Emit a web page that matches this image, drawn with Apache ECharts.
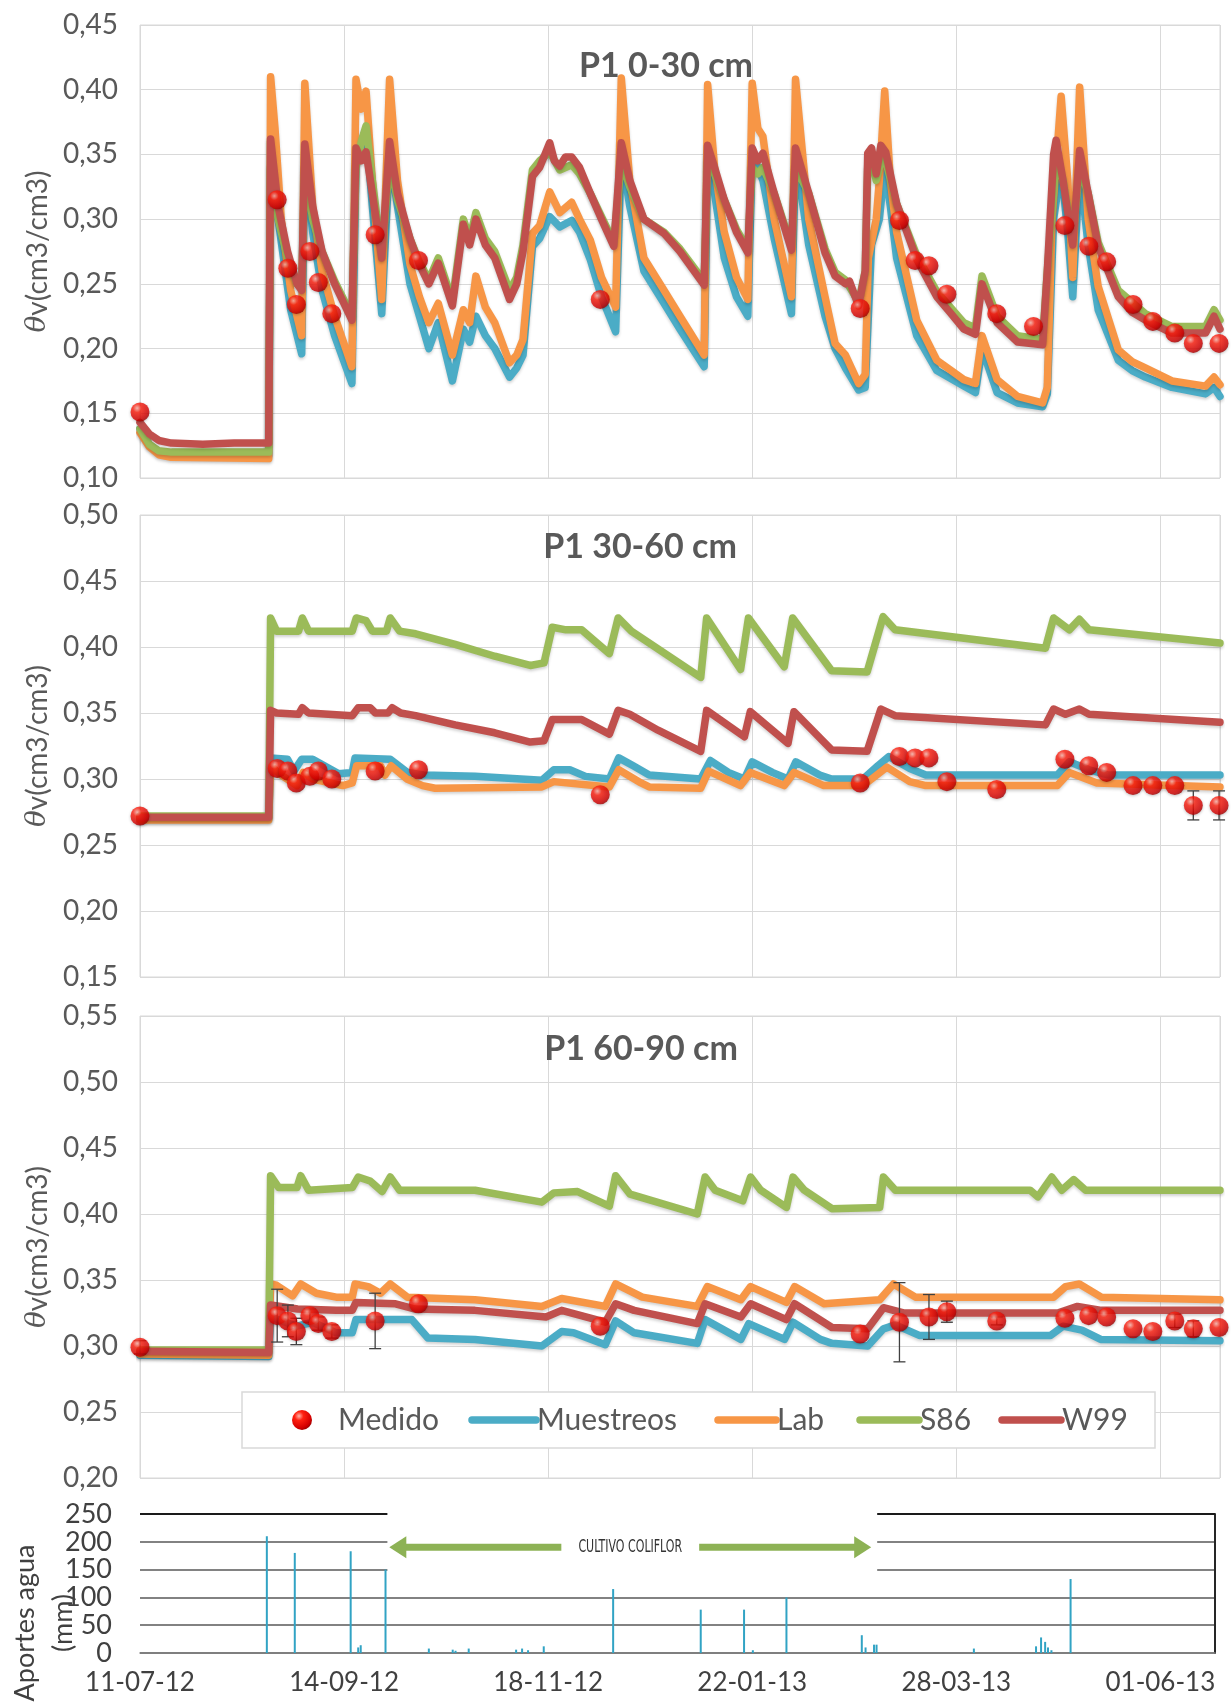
<!DOCTYPE html>
<html><head><meta charset="utf-8">
<script src="https://cdn.jsdelivr.net/npm/echarts@6/dist/echarts.min.js"></script>
<style>html,body{margin:0;padding:0;background:#fff}#c{width:1231px;height:1702px}</style>
</head><body><div id="c"></div>
<script>
// ---------- DATA (days since 11-07-12) ----------
const medDays = [0,43.7,47.1,49.8,54.1,56.8,61.1,74.9,88.7,146.6,229.4,241.9,246.9,251.3,257,272.9,284.6,294.6,302.2,307.9,316.3,322.6,329.6,335.5,343.7];
const med1 = [0.151,0.315,0.262,0.234,0.275,0.251,0.227,0.288,0.268,0.238,0.231,0.299,0.268,0.264,0.242,0.227,0.217,0.295,0.279,0.267,0.234,0.221,0.212,0.204,0.204];
const med2 = [0.272,0.308,0.306,0.297,0.302,0.306,0.300,0.306,0.307,0.288,0.297,0.317,0.316,0.316,0.298,0.292,null,0.315,0.310,0.305,0.295,0.295,0.295,0.280,0.280];
const err2 = [0,0,0,0,0,0,0,0,0,0,0,0,0,0,0,0,0,0,0,0,0,0,0,0.011,0.011];
const med3 = [0.299,0.323,0.319,0.311,0.323,0.317,0.311,0.319,0.332,0.315,0.309,0.318,null,0.322,0.326,0.319,null,0.321,0.323,0.322,0.313,0.311,0.319,0.313,0.314];
const err3 = [0.005,0.02,0.012,0.01,0.005,0.005,0.005,0.021,0,0,0,0.03,0,0.017,0.008,0.003,0,0,0,0,0,0,0.005,0.006,0];

// P1 0-30 cm
const mue1 = [[0,0.138],[3,0.126],[6,0.12],[10,0.118],[41,0.117],[41.6,0.36],[44,0.30],[48,0.23],[51.5,0.196],[52.5,0.35],[55,0.29],[58,0.245],[62,0.21],[67.5,0.173],[68.8,0.345],[70.5,0.36],[72,0.37],[74,0.31],[77,0.227],[79.5,0.35],[82,0.31],[86,0.25],[89,0.225],[92,0.2],[95,0.22],[99.5,0.175],[103,0.215],[105,0.205],[107,0.225],[110,0.21],[113,0.2],[117.7,0.178],[120,0.185],[122,0.195],[125,0.279],[127.3,0.285],[130.5,0.302],[133.7,0.294],[137.5,0.299],[140,0.29],[143.4,0.269],[147,0.24],[151.5,0.213],[153.3,0.35],[156,0.31],[160.5,0.26],[166.9,0.235],[172,0.215],[179.7,0.186],[180.8,0.35],[183,0.32],[186.1,0.27],[190,0.24],[193.6,0.225],[195,0.35],[196.8,0.34],[198.4,0.33],[202,0.285],[207.5,0.227],[208.8,0.35],[213,0.28],[218.2,0.225],[221.4,0.2],[224.7,0.185],[228.9,0.168],[231,0.17],[233,0.28],[235.5,0.30],[237.2,0.34],[239,0.31],[241,0.27],[247.4,0.21],[253.8,0.183],[262.4,0.171],[266.1,0.166],[268.2,0.2],[273,0.166],[279.5,0.158],[287.5,0.155],[289,0.165],[291,0.30],[293.4,0.34],[295.5,0.29],[297.1,0.24],[299.3,0.34],[302,0.28],[305.2,0.23],[311.6,0.191],[316,0.183],[320.2,0.178],[328.7,0.17],[339.4,0.165],[342.1,0.17],[344,0.163]];
const lab1 = [[0,0.135],[3,0.124],[6,0.118],[10,0.116],[41,0.115],[41.6,0.41],[43,0.37],[45,0.30],[48,0.245],[51.5,0.21],[52.5,0.405],[55,0.31],[58,0.26],[62,0.225],[67.5,0.186],[68.8,0.408],[70.5,0.385],[72,0.399],[74,0.33],[77,0.238],[79.5,0.408],[82,0.33],[86,0.265],[89,0.24],[92,0.22],[95,0.235],[99.5,0.195],[103,0.23],[105,0.22],[107,0.256],[110,0.232],[113,0.22],[117.7,0.189],[120,0.195],[122,0.207],[125,0.289],[127.3,0.295],[130.5,0.321],[133.7,0.305],[137.5,0.313],[140,0.30],[143.4,0.284],[147,0.255],[151.5,0.232],[153.3,0.409],[156,0.33],[160.5,0.27],[166.9,0.245],[172,0.225],[179.7,0.195],[180.8,0.404],[183,0.34],[186.1,0.29],[190,0.255],[193.6,0.238],[195,0.405],[196.8,0.37],[198.4,0.364],[202,0.30],[207.5,0.24],[208.8,0.408],[213,0.30],[218.2,0.24],[221.4,0.204],[224.7,0.195],[228.9,0.173],[231,0.18],[232,0.27],[234.5,0.30],[235.5,0.33],[237.2,0.399],[239,0.33],[241,0.29],[247.4,0.222],[253.8,0.191],[262.4,0.176],[266.1,0.173],[268.2,0.21],[273,0.176],[279.5,0.163],[287.5,0.158],[289,0.17],[290.5,0.30],[293.4,0.395],[295.5,0.33],[297.1,0.255],[299.3,0.402],[302,0.30],[305.2,0.248],[311.6,0.199],[316,0.19],[320.2,0.185],[328.7,0.175],[339.4,0.171],[342.1,0.178],[344,0.172]];
const s86_1 = [[0,0.138],[3,0.126],[6,0.121],[10,0.12],[41,0.12],[41.6,0.34],[44,0.30],[47,0.27],[50,0.25],[51.5,0.247],[52.5,0.34],[55,0.30],[58,0.275],[62,0.252],[67.5,0.225],[68.8,0.34],[70.5,0.36],[72,0.372],[74,0.33],[77,0.272],[79.5,0.345],[82,0.315],[86,0.285],[89,0.267],[92,0.253],[95,0.27],[99.5,0.237],[103,0.30],[105,0.285],[107,0.305],[110,0.285],[113,0.275],[117.7,0.245],[120,0.255],[122,0.28],[125,0.338],[127.3,0.345],[130.5,0.352],[133.7,0.338],[137.5,0.342],[140,0.335],[143.4,0.32],[147,0.302],[150.9,0.282],[153.3,0.345],[156,0.325],[160.5,0.30],[166.9,0.29],[172,0.277],[179.7,0.252],[180.8,0.345],[183,0.335],[186.1,0.315],[190,0.292],[193.6,0.277],[195,0.34],[196.8,0.335],[198.4,0.34],[202,0.32],[207.5,0.279],[208.8,0.34],[213,0.32],[218.2,0.277],[221.4,0.259],[224.7,0.253],[228.9,0.236],[231,0.26],[231.8,0.34],[233,0.345],[234.5,0.33],[236,0.345],[237.5,0.345],[241,0.312],[247.4,0.272],[253.8,0.244],[262.4,0.22],[266.1,0.216],[268.2,0.256],[273,0.225],[279.5,0.21],[287.5,0.207],[289,0.26],[291.8,0.345],[294,0.33],[297.1,0.285],[299.3,0.34],[302,0.32],[305.2,0.282],[311.6,0.245],[320.2,0.227],[328.7,0.217],[339.4,0.217],[342.1,0.23],[344,0.222]];
const w99_1 = [[0,0.143],[3,0.134],[6,0.129],[10,0.127],[20,0.126],[30,0.127],[41,0.127],[41.6,0.362],[44,0.31],[47,0.275],[50,0.25],[51.5,0.245],[52.5,0.358],[55,0.31],[58,0.275],[62,0.25],[67.5,0.222],[68.8,0.355],[70.5,0.345],[72,0.352],[74,0.32],[77,0.27],[79.5,0.36],[82,0.32],[86,0.285],[89,0.265],[92,0.25],[95,0.266],[99.5,0.233],[103,0.296],[105,0.28],[107,0.30],[110,0.28],[113,0.27],[117.7,0.238],[120,0.25],[122,0.275],[125,0.333],[127.3,0.34],[130.5,0.359],[132,0.345],[133.7,0.341],[135.5,0.348],[137.5,0.348],[140,0.34],[143.4,0.32],[147,0.30],[150.9,0.279],[153.3,0.359],[156,0.33],[160.5,0.30],[166.9,0.289],[172,0.275],[179.7,0.249],[180.8,0.357],[183,0.34],[186.1,0.315],[190,0.29],[193.6,0.274],[195,0.355],[196.8,0.345],[198.4,0.351],[202,0.32],[207.5,0.276],[208.8,0.355],[213,0.32],[218.2,0.274],[221.4,0.256],[224.7,0.25],[226,0.252],[228.9,0.233],[231,0.26],[231.8,0.351],[233,0.355],[234.5,0.335],[236,0.357],[237.5,0.352],[241,0.312],[247.4,0.269],[253.8,0.24],[258,0.228],[262.4,0.215],[266.1,0.211],[268.2,0.25],[273,0.22],[279.5,0.205],[287.5,0.203],[289,0.26],[291,0.35],[291.8,0.361],[294,0.33],[297.1,0.28],[299.3,0.353],[302,0.32],[305.2,0.279],[311.6,0.24],[316,0.228],[320.2,0.222],[328.7,0.212],[339.4,0.212],[342.1,0.225],[344,0.215]];

// P1 30-60 cm
const mue2 = [[0,0.27],[41,0.27],[41.6,0.316],[47,0.315],[49,0.306],[51.5,0.315],[55,0.315],[63.3,0.304],[67.6,0.305],[68.5,0.316],[79.7,0.315],[85.2,0.305],[90.3,0.303],[106.7,0.302],[128,0.299],[131.8,0.307],[136.9,0.307],[141.9,0.302],[149.5,0.30],[152.5,0.316],[157.1,0.31],[162.2,0.303],[178.6,0.30],[181.7,0.314],[187.4,0.305],[192.5,0.30],[195,0.313],[201.4,0.305],[206.4,0.30],[208.9,0.313],[216.5,0.303],[220.3,0.30],[230.3,0.30],[235,0.31],[238.5,0.317],[245.2,0.308],[250.3,0.303],[292.2,0.303],[296,0.313],[302.3,0.307],[308.6,0.303],[344,0.303]];
const lab2 = [[0,0.269],[41,0.269],[41.6,0.31],[45,0.303],[50,0.295],[52,0.305],[55,0.30],[64.6,0.295],[67.6,0.297],[69,0.31],[76.6,0.31],[78,0.303],[80,0.31],[85,0.30],[90,0.295],[94,0.293],[128,0.294],[131.8,0.298],[149.5,0.294],[152.5,0.307],[159.6,0.297],[162.2,0.294],[178.6,0.293],[181.1,0.306],[191.3,0.295],[194.4,0.305],[205.2,0.295],[208.3,0.305],[217.8,0.295],[230.3,0.295],[237.9,0.309],[245.2,0.298],[250.3,0.295],[292.2,0.295],[296,0.305],[304.8,0.297],[344,0.294]];
const s86_2 = [[0,0.272],[41,0.272],[41.6,0.422],[43.5,0.412],[50.5,0.412],[51.7,0.422],[53.7,0.412],[67.6,0.412],[68.9,0.422],[72,0.42],[74,0.412],[78.5,0.412],[79.7,0.422],[82.7,0.412],[87.8,0.41],[100.4,0.402],[113,0.393],[124.3,0.386],[128.7,0.388],[131.3,0.415],[135.7,0.413],[140.7,0.413],[149.5,0.395],[152.3,0.422],[156.5,0.412],[178.6,0.377],[180.5,0.422],[191.3,0.383],[193.8,0.422],[205.2,0.385],[207.9,0.422],[220.3,0.382],[231.6,0.381],[236.7,0.423],[240.5,0.413],[288.4,0.399],[291,0.422],[296,0.413],[299.2,0.421],[302.3,0.413],[344,0.403]];
const w99_2 = [[0,0.271],[41,0.271],[41.6,0.352],[43.5,0.35],[50.5,0.349],[51.7,0.354],[53.7,0.35],[67.6,0.348],[69.5,0.354],[73.3,0.354],[75,0.35],[79,0.35],[80.3,0.354],[83,0.35],[87.8,0.348],[100.4,0.341],[113,0.335],[124.3,0.328],[128.7,0.329],[131.3,0.345],[140.7,0.345],[149.5,0.334],[152.3,0.352],[156,0.349],[165,0.337],[178.6,0.321],[180.5,0.352],[192.5,0.332],[194.4,0.351],[206.4,0.327],[208.3,0.351],[220.3,0.322],[231.6,0.321],[236,0.353],[240.5,0.348],[288.4,0.341],[291,0.353],[294.8,0.349],[299.2,0.353],[302.3,0.349],[344,0.343]];

// P1 60-90 cm
const mue3 = [[0,0.293],[41,0.292],[41.6,0.322],[50,0.315],[55,0.318],[62.5,0.31],[67.6,0.31],[68.8,0.32],[86.6,0.32],[91.7,0.306],[106.7,0.305],[128,0.30],[134.3,0.311],[138.1,0.31],[148.2,0.301],[151.5,0.319],[157.4,0.31],[177.5,0.302],[180,0.32],[191.4,0.305],[193.9,0.317],[205.3,0.305],[208,0.318],[216.7,0.305],[220.4,0.302],[231.8,0.30],[236.8,0.313],[240.6,0.316],[248.2,0.308],[290,0.308],[294,0.315],[300,0.312],[306,0.305],[344,0.304]];
const lab3 = [[0,0.294],[41,0.293],[41.6,0.347],[43.5,0.346],[48.6,0.338],[51.2,0.347],[56.2,0.34],[62.5,0.337],[67.6,0.337],[68.5,0.347],[72.7,0.345],[76.6,0.34],[79.7,0.347],[85.2,0.337],[106.7,0.335],[128,0.33],[134.3,0.336],[148.2,0.33],[151.5,0.347],[160,0.337],[177.5,0.33],[180.7,0.345],[191.4,0.335],[194.5,0.345],[205.9,0.333],[208.5,0.345],[217.9,0.332],[235.6,0.335],[240,0.347],[247,0.337],[291,0.337],[294.8,0.345],[299.2,0.347],[306.2,0.337],[344,0.335]];
const s86_3 = [[0,0.297],[41,0.297],[41.6,0.429],[44.2,0.42],[50,0.42],[51.2,0.429],[53.7,0.418],[67.6,0.42],[69.5,0.428],[73.3,0.425],[77.1,0.417],[79.7,0.428],[82.7,0.418],[106.7,0.418],[128,0.409],[131.8,0.416],[139.4,0.417],[149.5,0.406],[151.5,0.429],[156.1,0.415],[177.5,0.40],[180,0.428],[183.2,0.418],[192,0.41],[194.5,0.428],[197.7,0.418],[205.9,0.405],[208,0.428],[211.6,0.418],[220.4,0.404],[235.6,0.405],[236.8,0.428],[240.6,0.418],[283.5,0.418],[286,0.413],[290.4,0.428],[293.6,0.418],[297.4,0.426],[301.2,0.418],[344,0.418]];
const w99_3 = [[0,0.296],[41,0.295],[41.6,0.331],[50.2,0.328],[62.5,0.327],[67.6,0.327],[68.8,0.333],[81.4,0.332],[87.7,0.328],[106.7,0.327],[129.3,0.322],[134.3,0.327],[148.2,0.318],[151.5,0.332],[157.4,0.327],[177.5,0.317],[180,0.332],[191.4,0.322],[194.5,0.332],[205.9,0.32],[208.5,0.332],[220.4,0.314],[231.8,0.313],[236.8,0.329],[243.2,0.325],[292.3,0.325],[298.6,0.33],[306.2,0.327],[344,0.327]];

// Aportes agua (mm)
const rainDays = [40.4,49.3,67.1,69.5,70.3,78.2,92,99.6,100.5,104.7,119.8,121.7,123.6,128.6,150.7,178.6,192.4,195.2,205.9,229.9,231.1,233.8,234.6,265.6,285.4,287,288.3,289.2,290.3,296.4];
const rainVals = [210,180,183,10,14,150,8,6,4,8,6,8,5,12,115,78,78,5,100,32,10,15,15,8,12,28,20,10,5,133];

const yTicks1 = [0.10,0.45,0.05], yTicks2 = [0.15,0.50,0.05], yTicks3 = [0.20,0.55,0.05], yTicks4 = [0,250,50];
const seriesNames = ['Medido','Muestreos','Lab','S86','W99'];
const titles = ['P1 0-30 cm','P1 30-60 cm','P1 60-90 cm'];

// ---------- CHART ----------
const FONT = 'Lato, "DejaVu Sans", sans-serif';
const COL = {Muestreos:'#4BACC6', Lab:'#F79646', S86:'#9BBB59', W99:'#C0504D'};
const BASE = Date.UTC(2012,6,11);
const pad = n => (n<10?'0':'')+n;
function fmtDate(v){const d=new Date(BASE+Math.round(v)*86400000);return pad(d.getUTCDate())+'-'+pad(d.getUTCMonth()+1)+'-'+String(d.getUTCFullYear()).slice(2);}
const fmtY = v => v.toFixed(2).replace('.',',');

const chart = echarts.init(document.getElementById('c'), null, {renderer:'canvas'});

const gridTops = [[25,453],[515,462],[1016,462]];
const grids = gridTops.map(g=>({left:140,right:11,top:g[0],height:g[1],show:true,borderColor:'#d9d9d9',borderWidth:1}));
grids.push({left:140,right:16,top:1514,height:139,show:false});

const xAxes = [0,1,2].map(i=>({type:'value',gridIndex:i,min:0,max:344,interval:65,axisLabel:{show:false},axisTick:{show:false},axisLine:{show:false},splitLine:{show:true,lineStyle:{color:'#d9d9d9',width:1}}}));
xAxes.push({type:'value',gridIndex:3,min:0,max:342.4,interval:65,axisTick:{show:false},splitLine:{show:false},
  axisLine:{show:true,lineStyle:{color:'#7f7f7f',width:1.5}},
  axisLabel:{formatter:fmtDate,showMaxLabel:false,fontSize:26,color:'#404040',fontFamily:FONT,margin:17}});

const yNameStyle = {fontSize:28,color:'#595959',fontFamily:FONT,rich:{i:{fontStyle:'italic',fontSize:28,color:'#595959',fontFamily:'"DejaVu Serif", serif'}}};
const yAxes = [yTicks1,yTicks2,yTicks3].map((t,i)=>({type:'value',gridIndex:i,min:t[0],max:t[1],interval:t[2],
  axisLine:{show:false},axisTick:{show:false},splitLine:{lineStyle:{color:'#d9d9d9',width:1}},
  axisLabel:{formatter:fmtY,fontSize:28,color:'#595959',fontFamily:FONT,margin:22},
  name:'{i|θ}v(cm3/cm3)',nameLocation:'middle',nameRotate:90,nameGap:84,nameTextStyle:yNameStyle}));
yAxes.push({type:'value',gridIndex:3,min:yTicks4[0],max:yTicks4[1],interval:yTicks4[2],axisLine:{show:false},axisTick:{show:false},
  splitLine:{lineStyle:{color:'#595959',width:1.5}},axisLabel:{fontSize:27,color:'#404040',fontFamily:FONT,margin:28}});
yAxes.push({type:'value',gridIndex:3,position:'right',min:0,max:250,axisLine:{show:true,lineStyle:{color:'#262626',width:2}},axisTick:{show:false},axisLabel:{show:false},splitLine:{show:false}});

function lineS(name,data,idx){return {name,type:'line',xAxisIndex:idx,yAxisIndex:idx,data,showSymbol:false,symbol:'none',
  lineStyle:{color:COL[name],width:7.5,cap:'round',join:'round',shadowColor:'rgba(0,0,0,0.18)',shadowBlur:3,shadowOffsetY:2},itemStyle:{color:COL[name]},z:2,silent:true};}
const dotColor = new echarts.graphic.RadialGradient(0.35,0.3,0.75,[{offset:0,color:'#ffb3a8'},{offset:0.3,color:'#ff2010'},{offset:0.8,color:'#d40000'},{offset:1,color:'#9a0000'}]);
function medS(vals,idx){return {name:'Medido',type:'scatter',xAxisIndex:idx,yAxisIndex:idx,symbolSize:19,
  data:medDays.map((d,i)=>[d,vals[i]]).filter(p=>p[1]!=null),itemStyle:{color:dotColor,shadowColor:'rgba(0,0,0,0.3)',shadowBlur:3,shadowOffsetY:1},z:5,silent:true};}
function errS(vals,errs,idx){return {type:'custom',xAxisIndex:idx,yAxisIndex:idx,z:4,silent:true,
  data:medDays.map((d,i)=>[d,vals[i],errs[i]]).filter(p=>p[1]!=null&&p[2]>0),
  renderItem:(params,api)=>{const x=api.value(0),y=api.value(1),e=api.value(2);const a=api.coord([x,y+e]),b=api.coord([x,y-e]);const w=6;const st={stroke:'#404040',lineWidth:1.3};
    return {type:'group',children:[{type:'line',shape:{x1:a[0],y1:a[1],x2:b[0],y2:b[1]},style:st},{type:'line',shape:{x1:a[0]-w,y1:a[1],x2:a[0]+w,y2:a[1]},style:st},{type:'line',shape:{x1:b[0]-w,y1:b[1],x2:b[0]+w,y2:b[1]},style:st}]};}};}

const series = [];
[[mue1,lab1,s86_1,w99_1],[mue2,lab2,s86_2,w99_2],[mue3,lab3,s86_3,w99_3]].forEach((set,i)=>{
  ['Muestreos','Lab','S86','W99'].forEach((n,k)=>series.push(lineS(n,set[k],i)));
});
series.push(errS(med2,err2,1), errS(med3,err3,2));
series.push(medS(med1,0), medS(med2,1), medS(med3,2));
series.push({type:'bar',xAxisIndex:3,yAxisIndex:3,barWidth:2,data:rainDays.map((d,i)=>[d,rainVals[i]]),itemStyle:{color:'#31a3c4'},silent:true,z:3,
  markLine:{silent:true,symbol:'none',label:{show:false},data:[{yAxis:250}],lineStyle:{color:'#1a1a1a',width:2,type:'solid'}}});

chart.setOption({animation:false,backgroundColor:'#fff',grid:grids,xAxis:xAxes,yAxis:yAxes,series});

// ---------- decorations ----------
const P = (d,v)=>chart.convertToPixel({xAxisIndex:3,yAxisIndex:3},[d,v]);
const g = [];
// white box hiding upper grid lines behind the crop annotation
const bA = P(78.8,262), bB = P(234.8,122);
g.push({type:'rect',z:100,shape:{x:bA[0],y:bA[1],width:bB[0]-bA[0],height:bB[1]-bA[1]},style:{fill:'#fff'}});
const ay = P(0,190)[1];
const green = '#8DB255';
const lt = P(79.4,0)[0], ls = P(134.2,0)[0], rs = P(178.1,0)[0], rt = P(232.9,0)[0];
g.push({type:'rect',z:101,shape:{x:lt+16,y:ay-3.5,width:ls-lt-16,height:7},style:{fill:green}});
g.push({type:'polygon',z:101,shape:{points:[[lt,ay],[lt+17,ay-11],[lt+17,ay+11]]},style:{fill:green}});
g.push({type:'rect',z:101,shape:{x:rs,y:ay-3.5,width:rt-16-rs,height:7},style:{fill:green}});
g.push({type:'polygon',z:101,shape:{points:[[rt,ay],[rt-17,ay-11],[rt-17,ay+11]]},style:{fill:green}});
g.push({type:'text',z:101,x:(ls+rs)/2,y:ay,scaleX:0.72,style:{text:'CULTIVO COLIFLOR',font:'17px "Liberation Sans Narrow", "DejaVu Sans Condensed", sans-serif',fill:'#333',textAlign:'center',textVerticalAlign:'middle'}});
// bar chart axis title
g.push({type:'text',z:101,x:44,y:1623,rotation:Math.PI/2,style:{text:'Aportes agua\n(mm)',font:'27px '+FONT,fill:'#404040',textAlign:'center',textVerticalAlign:'middle',lineHeight:38}});
// panel titles
[[666,66],[640,547],[641,1049]].forEach((p,i)=>g.push({type:'text',z:101,x:p[0],y:p[1],style:{text:titles[i],font:'bold 34px '+FONT,fill:'#595959',textAlign:'center',textVerticalAlign:'middle'}}));
// legend
const ly = 1420;
g.push({type:'rect',z:100,shape:{x:242,y:1392,width:913,height:56},style:{fill:'#fff',stroke:'#d9d9d9',lineWidth:1.5}});
g.push({type:'circle',z:101,shape:{cx:302,cy:ly,r:10},style:{fill:dotColor}});
g.push({type:'text',z:101,x:338,y:ly,style:{text:seriesNames[0],font:'30px '+FONT,fill:'#595959',textVerticalAlign:'middle'}});
[[472,536,1],[718,776,2],[860,919,3],[1002,1061,4]].forEach(a=>{
  const n = seriesNames[a[2]];
  g.push({type:'line',z:101,shape:{x1:a[0],y1:ly,x2:a[1],y2:ly},style:{stroke:COL[n],lineWidth:7.5,lineCap:'round'}});
  g.push({type:'text',z:101,x:a[1]+1,y:ly,style:{text:n,font:'30px '+FONT,fill:'#595959',textVerticalAlign:'middle'}});
});
chart.setOption({graphic:{elements:g}});
</script></body></html>
